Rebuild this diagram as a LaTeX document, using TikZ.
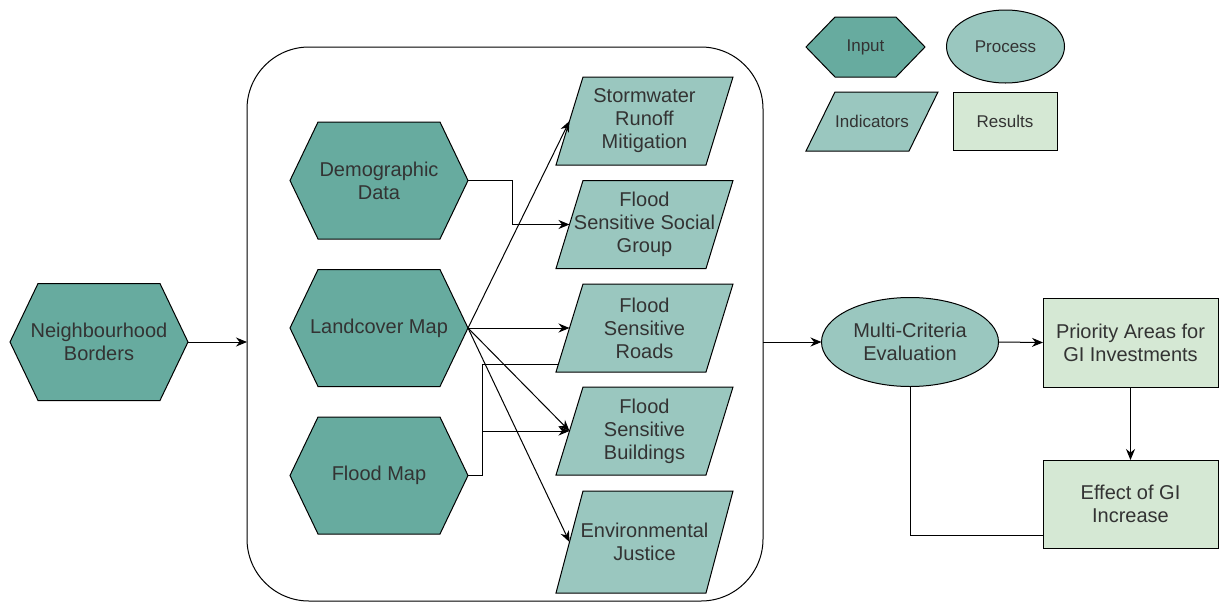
\documentclass[tikz,border=0pt]{standalone}
\usepackage{fontspec}
\setmainfont{Liberation Sans}
\usetikzlibrary{shapes.geometric,shapes.symbols,arrows.meta,calc}
\definecolor{hexfill}{HTML}{67AB9F}
\definecolor{parafill}{HTML}{9AC7BF}
\definecolor{resfill}{HTML}{D5E8D4}
\definecolor{txtcol}{HTML}{333333}
\begin{document}
\begin{tikzpicture}[x=1pt,y=-1pt,
  every node/.style={inner sep=0pt, outer sep=0pt},
  base/.style={draw=black, line width=1pt},
  txt/.style={text=txtcol, align=center, font=\fontsize{20}{23}\selectfont},
  ltxt/.style={text=txtcol, align=center, font=\fontsize{17}{20}\selectfont},
  hexa/.style={base, signal, signal to=east and west, fill=hexfill,
    minimum width=178pt, minimum height=117pt, signal pointer angle=128.8},
  para/.style n args={3}{rectangle, minimum width=#1+2pt, minimum height=#2+2pt,
    path picture={\filldraw[base, fill=parafill]
      ($(path picture bounding box.north west)+(1+#3,1)$) --
      ($(path picture bounding box.north east)+(-1,1)$) --
      ($(path picture bounding box.south east)+(-1-#3,-1)$) --
      ($(path picture bounding box.south west)+(1,-1)$) -- cycle;}},
  proc/.style={base, ellipse, fill=parafill},
  res/.style={base, rectangle, fill=resfill},
  conn/.style={draw=black, line width=1pt},
  arr/.style={conn, -{Stealth[length=11pt,width=9pt]}}
]
\useasboundingbox (0,0) rectangle (1219,603);

% container
\node[base, rounded corners=62pt, minimum width=516pt, minimum height=554pt] (cont) at (505,324) {};

% inputs
\node[hexa, label={[txt]center:{Neighbourhood\\Borders}}] (nb) at (99,342) {};
\node[hexa, label={[txt]center:{Demographic\\Data}}] (dem) at (379,180.5) {};
\node[hexa, label={[txt]center:{Landcover Map}}] (lc) at (379,328) {};
\node[hexa, label={[txt]center:{Flood Map}}] (fm) at (379,475.5) {};

% indicators
\node[para={177pt}{88pt}{27}, txt] (sw) at (644.5,121) {Stormwater\\Runoff\\Mitigation};
\node[para={177pt}{88pt}{27}, txt] (sg) at (644.5,224.5) {Flood\\Sensitive Social\\Group};
\node[para={177pt}{88pt}{27}, txt] (rd) at (644.5,328) {Flood\\Sensitive\\Roads};
\node[para={177pt}{88pt}{27}, txt] (bd) at (644.5,431) {Flood\\Sensitive\\Buildings};
\node[para={177pt}{102pt}{27}, txt] (ej) at (644.5,542) {Environmental\\Justice};

% process and results
\node[proc, minimum width=177pt, minimum height=89pt, label={[txt]center:{Multi-Criteria\\Evaluation}}] (mce) at (910,342) {};
\node[res, minimum width=175pt, minimum height=89pt, label={[txt]center:{Priority Areas for\\GI Investments}}] (pri) at (1130.5,342.5) {};
\node[res, minimum width=175pt, minimum height=88pt, label={[txt]center:{Effect of GI\\Increase}}] (eff) at (1130.5,504) {};

% legend
\node[base, signal, signal to=east and west, fill=hexfill, minimum width=119pt, minimum height=60pt,
  signal pointer angle=91.9, label={[ltxt]center:{Input}}] (lin) at (865.5,47) {};
\node[proc, minimum width=118pt, minimum height=73pt, label={[ltxt]center:{Process}}] (lpr) at (1005.5,46.5) {};
\node[para={132pt}{59pt}{29}, ltxt] (lind) at (872,121.5) {Indicators};
\node[res, minimum width=104pt, minimum height=58pt, label={[ltxt]center:{Results}}] (lres) at (1005,121) {};

% connection points on the slanted left sides
\coordinate (swl) at ([xshift=14.5pt]sw.west);
\coordinate (sgl) at ([xshift=14.5pt]sg.west);
\coordinate (rdl) at ([xshift=14.5pt]rd.west);
\coordinate (bdl) at ([xshift=14.5pt]bd.west);
\coordinate (ejl) at ([xshift=14.5pt]ej.west);
\coordinate (rdc) at ([xshift=3.7pt,yshift=9pt]rd.south west);

% connectors
\draw[arr] (nb.east) -- (nb.east -| cont.west);
\draw[arr] (dem.east) -- ++(44,0) |- (sgl);
\draw[arr] (lc.east) -- (swl);
\draw[arr] (lc.east) -- (rdl);
\draw[arr] (lc.east) -- (bdl);
\draw[arr] (lc.east) -- (ejl);
\coordinate (fj) at ([xshift=14pt]fm.east);
\draw[arr] (fm.east) -- (fj) |- (bdl);
\draw[conn] (fj |- bdl) |- (rdc);
\draw[arr] (cont.east |- mce.west) -- (mce.west);
\draw[arr] (mce.east) -- (pri.west);
\draw[arr] (pri.south) -- (eff.north);
\draw[conn] ([yshift=-31pt]eff.west) -| (mce.south);
\end{tikzpicture}
\end{document}
